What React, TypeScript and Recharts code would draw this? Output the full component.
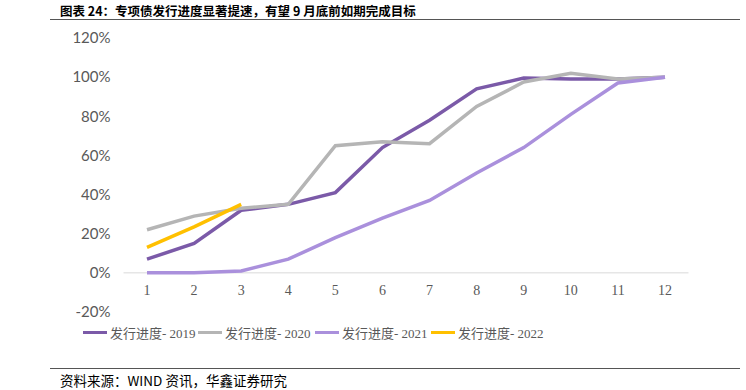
import { LineChart, Line, XAxis, YAxis, ReferenceLine } from 'recharts'

const months = ['1', '2', '3', '4', '5', '6', '7', '8', '9', '10', '11', '12']
const p2019 = [7, 15, 32, 35, 41, 64, 78, 94, 99.5, 99, 99, 100]
const p2020 = [22, 29, 33, 35, 65, 67, 66, 85, 97.5, 102, 99, 100]
const p2021 = [0, 0, 1, 7, 18, 28, 37, 51, 64, 81, 97, 100]
const p2022: (number | null)[] = [13, 23.5, 35, null, null, null, null, null, null, null, null, null]
const yTicks = [-20, 0, 20, 40, 60, 80, 100, 120]

const series = [
  { key: 'p2019', name: '发行进度- 2019', color: '#7B5AA8', x: 83 },
  { key: 'p2020', name: '发行进度- 2020', color: '#B5B5B5', x: 198 },
  { key: 'p2021', name: '发行进度- 2021', color: '#AA90DC', x: 315 },
  { key: 'p2022', name: '发行进度- 2022', color: '#FFC000', x: 431 },
]

const data = months.map((m, i) => ({
  month: m,
  p2019: p2019[i],
  p2020: p2020[i],
  p2021: p2021[i],
  p2022: p2022[i],
}))

// eslint-disable-next-line @typescript-eslint/no-explicit-any
function MonthTick({ x, y, payload }: any) {
  return (
    <text
      x={x}
      y={y - 17}
      textAnchor="middle"
      fill="#595959"
      fontSize={14}
      fontFamily="'Liberation Serif', serif"
    >
      {payload.value}
    </text>
  )
}

export default function App() {
  return (
    <div style={{ position: 'absolute', left: 0, top: 0, width: 746, height: 390, background: '#fff' }}>
      <div
        style={{
          position: 'absolute',
          left: 60,
          top: 1,
          fontFamily: "'Noto Sans CJK SC', sans-serif",
          fontWeight: 700,
          fontSize: 12.5,
          color: '#000',
          whiteSpace: 'nowrap',
        }}
      >
        图表 24：专项债发行进度显著提速，有望 9 月底前如期完成目标
      </div>
      <div style={{ position: 'absolute', left: 50, top: 19, width: 690, height: 1, background: '#555' }} />

      <LineChart
        width={746}
        height={390}
        data={data}
        margin={{ top: 38, right: 57.5, bottom: 48, left: 63.5 }}
        style={{ position: 'absolute', left: 0, top: 0 }}
      >
        <XAxis
          dataKey="month"
          axisLine={false}
          tickLine={false}
          tickSize={0}
          tickMargin={0}
          tick={<MonthTick />}
          height={30}
          interval={0}
          padding={{ left: 23.5, right: 23.5 }}
        />
        <YAxis
          domain={[-20, 120]}
          ticks={yTicks}
          width={60}
          axisLine={false}
          tickLine={false}
          tickSize={0}
          tickMargin={13}
          tickFormatter={(v: number) => `${v}%`}
          tick={{ fill: '#595959', fontSize: 15, fontFamily: 'Lato, sans-serif' }}
          interval={0}
        />
        <ReferenceLine y={0} stroke="#D9D9D9" strokeWidth={1} />
        {series.map((s) => (
          <Line
            key={s.key}
            type="linear"
            dataKey={s.key}
            name={s.name}
            stroke={s.color}
            strokeWidth={3.5}
            dot={false}
            isAnimationActive={false}
            connectNulls={false}
          />
        ))}
      </LineChart>

      {series.map((s) => (
        <div
          key={s.key}
          style={{ position: 'absolute', left: s.x, top: 323, height: 18, display: 'flex', alignItems: 'center' }}
        >
          <span style={{ width: 24, height: 3, background: s.color, display: 'inline-block', marginRight: 3 }} />
          <span
            style={{
              fontFamily: "'Liberation Serif', 'Noto Sans CJK SC', serif",
              fontSize: 13,
              color: '#595959',
              whiteSpace: 'nowrap',
            }}
          >
            {s.name}
          </span>
        </div>
      ))}

      <div style={{ position: 'absolute', left: 50, top: 368, width: 690, height: 1, background: '#555' }} />
      <div
        style={{
          position: 'absolute',
          left: 60,
          top: 370,
          fontFamily: "'Noto Sans CJK SC', sans-serif",
          fontSize: 13.5,
          color: '#000',
          whiteSpace: 'nowrap',
        }}
      >
        资料来源：WIND 资讯，华鑫证券研究
      </div>
    </div>
  )
}
